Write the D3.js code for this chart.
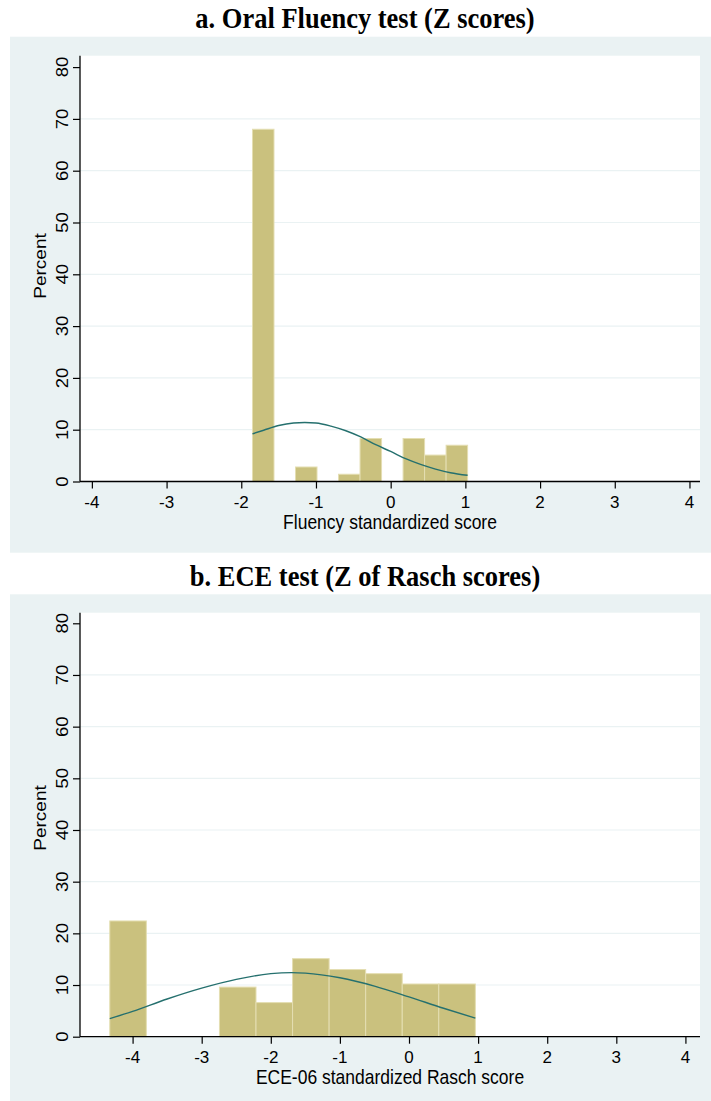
<!DOCTYPE html>
<html>
<head>
<meta charset="utf-8">
<script src="https://cdn.jsdelivr.net/npm/d3@7"></script>
<style>
  html, body { margin: 0; padding: 0; background: #ffffff; }
  svg { display: block; }
  .tick-label { font-family: "Liberation Sans", Arial, sans-serif; fill: #000; }
  .axis-title { font-family: "Liberation Sans", Arial, sans-serif; fill: #000; }
  .panel-title { font-family: "Liberation Serif", "Times New Roman", serif; font-weight: bold; fill: #000; }
</style>
</head>
<body>
<svg id="chart" width="711" height="1101"></svg>
<script>
// Shared axis ticks
const xTicks = [-4, -3, -2, -1, 0, 1, 2, 3, 4];
const yTicks = [0, 10, 20, 30, 40, 50, 60, 70, 80];
const yGrid = [10, 20, 30, 40, 50, 60, 70];

// Panel a: oral fluency Z scores, 10 bins
const titleA = "a. Oral Fluency test (Z scores)";
const xTitleA = "Fluency standardized score";
const binStartA = -1.85;
const binWidthA = 0.288;
const percentA = [68.0, 0, 2.8, 0, 1.4, 8.3, 0, 8.3, 5.1, 7.0];
const curveXA = [-1.85, -1.7, -1.5, -1.3, -1.15, -1.0, -0.8, -0.6, -0.4, -0.2, 0.0, 0.2, 0.4, 0.6, 0.8, 1.03];
const curveYA = [9.2, 9.9, 10.8, 11.3, 11.4, 11.3, 10.7, 9.8, 8.6, 7.1, 5.8, 4.4, 3.3, 2.4, 1.7, 1.2];

// Panel b: ECE-06 Rasch Z scores, 10 bins
const titleB = "b. ECE test (Z of Rasch scores)";
const xTitleB = "ECE-06 standardized Rasch score";
const binStartB = -4.33;
const binWidthB = 0.529;
const percentB = [22.4, 0, 0, 9.6, 6.6, 15.1, 13.0, 12.2, 10.2, 10.2];
const curveXB = [-4.33, -4.0, -3.5, -3.0, -2.5, -2.0, -1.7, -1.5, -1.0, -0.5, 0.0, 0.5, 0.96];
const curveYB = [3.5, 4.9, 7.3, 9.4, 11.1, 12.2, 12.4, 12.3, 11.4, 9.8, 7.7, 5.5, 3.6];

const COLORS = {
  region: "#eaf2f3",
  plot: "#ffffff",
  grid: "#eaf2f3",
  barFill: "#cac17e",
  barStroke: "#e4deb2",
  curve: "#25706e",
  axis: "#000000"
};

// text is drawn slightly tall and narrow
const STRETCH = 1.12;

const svg = d3.select("#chart");

function drawPanel(cfg) {
  const g = svg.append("g");

  // outer region and plot region
  g.append("rect")
    .attr("x", cfg.region.x).attr("y", cfg.region.y)
    .attr("width", cfg.region.w).attr("height", cfg.region.h)
    .attr("fill", COLORS.region);
  g.append("rect")
    .attr("x", cfg.plot.left).attr("y", cfg.plot.top)
    .attr("width", cfg.plot.right - cfg.plot.left)
    .attr("height", cfg.plot.bottom - cfg.plot.top)
    .attr("fill", COLORS.plot);

  const x = d3.scaleLinear().domain(cfg.xDomain).range([cfg.plot.left, cfg.plot.right]);
  const y = d3.scaleLinear().domain(cfg.yDomain).range([cfg.plot.bottom, cfg.plot.top]);

  // horizontal grid
  g.append("g").selectAll("line").data(yGrid).join("line")
    .attr("x1", cfg.plot.left).attr("x2", cfg.plot.right)
    .attr("y1", d => y(d)).attr("y2", d => y(d))
    .attr("stroke", COLORS.grid).attr("stroke-width", 1.2);

  // histogram bars
  const bins = cfg.percent.map((v, i) => ({
    x0: cfg.binStart + i * cfg.binWidth,
    x1: cfg.binStart + (i + 1) * cfg.binWidth,
    v: v
  })).filter(d => d.v > 0);
  g.append("g").selectAll("rect").data(bins).join("rect")
    .attr("x", d => x(d.x0))
    .attr("y", d => y(d.v))
    .attr("width", d => x(d.x1) - x(d.x0))
    .attr("height", d => y(0) - y(d.v))
    .attr("fill", COLORS.barFill)
    .attr("stroke", COLORS.barStroke)
    .attr("stroke-width", 1);

  // normal density overlay
  const pts = cfg.curveX.map((cx, i) => [cx, cfg.curveY[i]]);
  g.append("path")
    .datum(pts)
    .attr("d", d3.line().x(d => x(d[0])).y(d => y(d[1])).curve(d3.curveMonotoneX))
    .attr("fill", "none")
    .attr("stroke", COLORS.curve)
    .attr("stroke-width", 1.4);

  // y axis
  const yAxis = d3.axisLeft(y).tickValues(yTicks).tickSize(7).tickFormat("");
  const ya = g.append("g").attr("transform", `translate(${cfg.plot.left},0)`).call(yAxis);
  ya.select(".domain").attr("d", `M0,${cfg.plot.top}V${cfg.plot.bottom}`).attr("stroke", COLORS.axis).attr("stroke-width", 1.3);
  ya.selectAll(".tick line").attr("stroke", COLORS.axis).attr("stroke-width", 1.2);
  g.append("g").selectAll("text").data(yTicks).join("text")
    .attr("class", "tick-label")
    .attr("transform", d => `translate(${cfg.plot.left - 12},${y(d)}) rotate(-90) scale(${STRETCH},1)`)
    .attr("text-anchor", "middle")
    .attr("font-size", 16.5)
    .text(d => d);

  // x axis
  const xAxis = d3.axisBottom(x).tickValues(xTicks).tickSize(7).tickFormat("");
  const xa = g.append("g").attr("transform", `translate(0,${cfg.plot.bottom})`).call(xAxis);
  xa.select(".domain").attr("d", `M${cfg.plot.left},0H${cfg.plot.right}`).attr("stroke", COLORS.axis).attr("stroke-width", 1.3);
  xa.selectAll(".tick line").attr("stroke", COLORS.axis).attr("stroke-width", 1.2);
  g.append("g").selectAll("text").data(xTicks).join("text")
    .attr("class", "tick-label")
    .attr("transform", d => `translate(${x(d)},${cfg.plot.bottom + 26})`)
    .attr("text-anchor", "middle")
    .attr("font-size", 17)
    .text(d => d);

  // axis titles
  g.append("text")
    .attr("class", "axis-title")
    .attr("transform", `translate(${(cfg.plot.left + cfg.plot.right) / 2},${cfg.plot.bottom + 47.5}) scale(1,${STRETCH})`)
    .attr("text-anchor", "middle")
    .attr("font-size", 17.5)
    .text(cfg.xTitle);
  g.append("text")
    .attr("class", "axis-title")
    .attr("transform", `translate(46,${cfg.yTitleY}) rotate(-90) scale(${STRETCH},1)`)
    .attr("text-anchor", "middle")
    .attr("font-size", 17)
    .text("Percent");

  // panel title
  g.append("text")
    .attr("class", "panel-title")
    .attr("transform", `translate(365,${cfg.titleY}) scale(1,${STRETCH})`)
    .attr("text-anchor", "middle")
    .attr("font-size", 26.5)
    .text(cfg.title);
}

drawPanel({
  title: titleA, titleY: 28, xTitle: xTitleA, yTitleY: 266,
  region: { x: 10, y: 36.7, w: 701, h: 516 },
  plot: { left: 80, right: 700, top: 55.7, bottom: 481.5 },
  xDomain: [-4.159, 4.141], yDomain: [0, 82.2],
  binStart: binStartA, binWidth: binWidthA, percent: percentA,
  curveX: curveXA, curveY: curveYA
});

drawPanel({
  title: titleB, titleY: 586, xTitle: xTitleB, yTitleY: 818,
  region: { x: 10, y: 594.3, w: 701, h: 520 },
  plot: { left: 80, right: 700, top: 612.7, bottom: 1036.7 },
  xDomain: [-4.761, 4.211], yDomain: [0, 82.05],
  binStart: binStartB, binWidth: binWidthB, percent: percentB,
  curveX: curveXB, curveY: curveYB
});
</script>
</body>
</html>
